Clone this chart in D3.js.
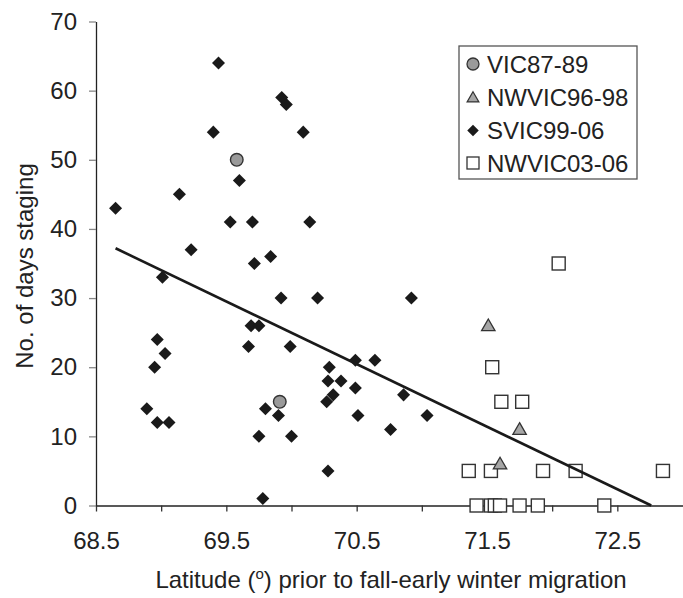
<!DOCTYPE html>
<html>
<head>
<meta charset="utf-8">
<script src="https://cdn.jsdelivr.net/npm/d3@7"></script>
<style>
  body { margin: 0; background: #fff; }
  svg { display: block; }
  text { font-family: "Liberation Sans", Arial, sans-serif; fill: #222; }
</style>
</head>
<body>
<svg></svg>
<script>
// series data (latitude, days staging)
var vicLat = [69.58, 69.91];
var vicDays = [50, 15];

var nwvic96Lat = [71.51, 71.75, 71.60];
var nwvic96Days = [26, 11, 6];

var svicLat = [68.65, 69.14, 69.23, 69.01, 68.97, 69.03, 68.95, 68.89, 68.97, 69.06,
  69.40, 69.44, 69.53, 69.60, 69.70, 69.715, 69.84, 69.925, 69.96, 70.09,
  70.14, 69.92, 70.20, 70.92, 69.69, 69.75, 69.67, 69.99, 70.29, 70.49,
  70.64, 70.28, 70.38, 70.49, 70.32, 70.27, 70.86, 69.80, 69.90, 70.51,
  71.04, 70.76, 69.75, 70.00, 70.28, 69.78];
var svicDays = [43, 45, 37, 33, 24, 22, 20, 14, 12, 12,
  54, 64, 41, 47, 41, 35, 36, 59, 58, 54,
  41, 30, 30, 30, 26, 26, 23, 23, 20, 21,
  21, 18, 18, 17, 16, 15, 16, 14, 13, 13,
  13, 11, 10, 10, 5, 1];

var nwvic03Lat = [72.05, 71.54, 71.61, 71.77, 71.36, 71.53, 71.93, 72.18, 72.85,
  71.42, 71.53, 71.56, 71.60, 71.75, 71.89, 72.40];
var nwvic03Days = [35, 20, 15, 15, 5, 5, 5, 5, 5,
  0, 0, 0, 0, 0, 0, 0];

// fitted line end points
var fitLat = [68.65, 72.76];
var fitDays = [37.2, 0];

var xTicks = [68.5, 69, 69.5, 70, 70.5, 71, 71.5, 72, 72.5];
var xLabels = [68.5, 69.5, 70.5, 71.5, 72.5];
var yTicks = [0, 10, 20, 30, 40, 50, 60, 70];

var legendNames = ["VIC87-89", "NWVIC96-98", "SVIC99-06", "NWVIC03-06"];

var width = 683, height = 598;
var svg = d3.select("svg").attr("width", width).attr("height", height);

var x = d3.scaleLinear().domain([68.5, 73]).range([96, 682.5]);
var y = d3.scaleLinear().domain([0, 70]).range([505.5, 21.5]);

// y axis
var yAxis = svg.append("g")
  .attr("transform", "translate(96,0)")
  .call(d3.axisLeft(y).tickValues(yTicks).tickSize(7).tickSizeOuter(0).tickPadding(12));
yAxis.select(".domain").attr("stroke", "#222").attr("stroke-width", 1.3);
yAxis.selectAll(".tick line").attr("stroke", "#888").attr("stroke-width", 1.3);
yAxis.selectAll(".tick text").style("font-size", "24px").attr("fill", "#222")
  .style("font-family", "'Liberation Sans', Arial, sans-serif");

// x axis
var xAxis = svg.append("g")
  .attr("transform", "translate(0,505.5)")
  .call(d3.axisBottom(x).tickValues(xTicks).tickSize(6).tickSizeOuter(0)
    .tickFormat(function(d) { return xLabels.indexOf(d) >= 0 ? d3.format(".1f")(d) : ""; })
    .tickPadding(20));
xAxis.select(".domain").attr("stroke", "#222").attr("stroke-width", 1.3);
xAxis.selectAll(".tick line").attr("stroke", "#333").attr("stroke-width", 1.3);
xAxis.selectAll(".tick text").style("font-size", "24px").attr("fill", "#222")
  .style("font-family", "'Liberation Sans', Arial, sans-serif");

// markers
var diamond = d3.symbol().type(d3.symbolDiamond2).size(108);
var tri = d3.symbol().type(d3.symbolTriangle).size(78);

var pts = svg.append("g");

pts.selectAll(".sq").data(d3.range(nwvic03Lat.length)).enter().append("rect")
  .attr("x", function(i) { return x(nwvic03Lat[i]) - 6.5; })
  .attr("y", function(i) { return y(nwvic03Days[i]) - 6.5; })
  .attr("width", 13).attr("height", 13)
  .attr("fill", "#fff").attr("stroke", "#333").attr("stroke-width", 1.4);

pts.selectAll(".tri").data(d3.range(nwvic96Lat.length)).enter().append("path")
  .attr("d", tri)
  .attr("transform", function(i) { return "translate(" + x(nwvic96Lat[i]) + "," + (y(nwvic96Days[i]) + 1) + ")"; })
  .attr("fill", "#a6a6a6").attr("stroke", "#333").attr("stroke-width", 1.3);

pts.selectAll(".dia").data(d3.range(svicLat.length)).enter().append("path")
  .attr("d", diamond)
  .attr("transform", function(i) { return "translate(" + x(svicLat[i]) + "," + y(svicDays[i]) + ")"; })
  .attr("fill", "#1a1a1a");

pts.selectAll(".circ").data(d3.range(vicLat.length)).enter().append("circle")
  .attr("cx", function(i) { return x(vicLat[i]); })
  .attr("cy", function(i) { return y(vicDays[i]); })
  .attr("r", 6.3)
  .attr("fill", "#9a9a9a").attr("stroke", "#333").attr("stroke-width", 1.4);

// regression line
svg.append("line")
  .attr("x1", x(fitLat[0])).attr("y1", y(fitDays[0]))
  .attr("x2", x(fitLat[1])).attr("y2", y(fitDays[1]))
  .attr("stroke", "#1a1a1a").attr("stroke-width", 2.6);

// legend
var lg = svg.append("g");
lg.append("rect").attr("x", 459).attr("y", 46).attr("width", 178).attr("height", 133)
  .attr("fill", "#fff").attr("stroke", "#555").attr("stroke-width", 1.3);
var rowY = [64, 97.5, 130.5, 163];
var mx = 473;
lg.append("circle").attr("cx", mx).attr("cy", rowY[0]).attr("r", 6)
  .attr("fill", "#9a9a9a").attr("stroke", "#333").attr("stroke-width", 1.3);
lg.append("path").attr("d", d3.symbol().type(d3.symbolTriangle).size(60))
  .attr("transform", "translate(" + mx + "," + (rowY[1] + 1) + ")")
  .attr("fill", "#a6a6a6").attr("stroke", "#333").attr("stroke-width", 1.2);
lg.append("path").attr("d", d3.symbol().type(d3.symbolDiamond2).size(85))
  .attr("transform", "translate(" + mx + "," + rowY[2] + ")")
  .attr("fill", "#1a1a1a");
lg.append("rect").attr("x", mx - 6).attr("y", rowY[3] - 6).attr("width", 12).attr("height", 12)
  .attr("fill", "#fff").attr("stroke", "#333").attr("stroke-width", 1.3);
lg.selectAll(".lt").data(legendNames).enter().append("text")
  .attr("x", 487).attr("y", function(d, i) { return rowY[i]; })
  .attr("dy", "0.36em")
  .style("font-size", "24px")
  .text(function(d) { return d; });

// axis titles
var xt = svg.append("text")
  .attr("x", 391).attr("y", 588)
  .attr("text-anchor", "middle")
  .style("font-size", "24px");
xt.append("tspan").text("Latitude (");
xt.append("tspan").attr("dy", -9).style("font-size", "15px").text("o");
xt.append("tspan").attr("dy", 9).text(") prior to fall-early winter migration");

svg.append("text")
  .attr("transform", "translate(33,266) rotate(-90)")
  .attr("text-anchor", "middle")
  .style("font-size", "24px")
  .text("No. of days staging");
</script>
</body>
</html>
